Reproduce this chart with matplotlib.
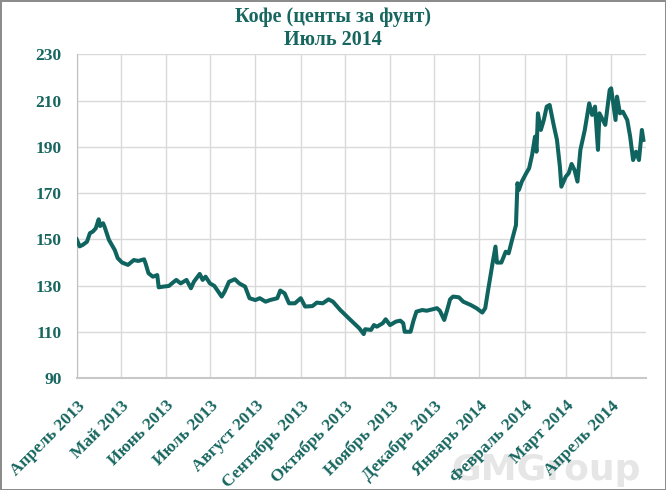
import numpy as np
import matplotlib
matplotlib.use("Agg")
import matplotlib.pyplot as plt
import pandas as pd

dates = [
    "2013-04-01", "2013-04-03", "2013-04-05", "2013-04-08", "2013-04-10", "2013-04-12",
    "2013-04-14", "2013-04-16", "2013-04-17", "2013-04-19", "2013-04-20", "2013-04-23",
    "2013-04-25", "2013-04-27", "2013-04-29", "2013-05-02", "2013-05-06", "2013-05-10",
    "2013-05-13", "2013-05-17", "2013-05-18", "2013-05-20", "2013-05-23", "2013-05-26",
    "2013-05-27", "2013-05-30", "2013-06-03", "2013-06-05", "2013-06-08", "2013-06-11",
    "2013-06-15", "2013-06-18", "2013-06-20", "2013-06-24", "2013-06-26", "2013-06-28",
    "2013-07-01", "2013-07-04", "2013-07-09", "2013-07-11", "2013-07-14", "2013-07-18",
    "2013-07-21", "2013-07-25", "2013-07-28", "2013-08-01", "2013-08-04", "2013-08-08",
    "2013-08-11", "2013-08-16", "2013-08-18", "2013-08-21", "2013-08-24", "2013-08-28",
    "2013-09-01", "2013-09-04", "2013-09-09", "2013-09-12", "2013-09-16", "2013-09-20",
    "2013-09-23", "2013-09-28", "2013-10-05", "2013-10-11", "2013-10-14", "2013-10-15",
    "2013-10-19", "2013-10-21", "2013-10-23", "2013-10-27", "2013-10-29", "2013-11-01",
    "2013-11-05", "2013-11-08", "2013-11-10", "2013-11-11", "2013-11-15", "2013-11-17",
    "2013-11-19", "2013-11-23", "2013-11-26", "2013-11-30", "2013-12-03", "2013-12-05",
    "2013-12-08", "2013-12-10", "2013-12-12", "2013-12-14", "2013-12-18", "2013-12-21",
    "2013-12-26", "2013-12-30", "2014-01-03", "2014-01-05", "2014-01-07", "2014-01-10",
    "2014-01-12", "2014-01-13", "2014-01-16", "2014-01-19", "2014-01-21", "2014-01-23",
    "2014-01-26", "2014-01-27", "2014-01-28", "2014-01-30", "2014-02-02", "2014-02-04",
    "2014-02-06", "2014-02-08", "2014-02-09", "2014-02-10", "2014-02-12", "2014-02-14",
    "2014-02-16", "2014-02-18", "2014-02-21", "2014-02-23", "2014-02-25", "2014-02-26",
    "2014-03-01", "2014-03-03", "2014-03-05", "2014-03-07", "2014-03-09", "2014-03-11",
    "2014-03-14", "2014-03-17", "2014-03-19", "2014-03-21", "2014-03-23", "2014-03-24",
    "2014-03-28", "2014-03-31", "2014-04-01", "2014-04-04", "2014-04-05", "2014-04-07",
    "2014-04-09", "2014-04-12", "2014-04-14", "2014-04-16", "2014-04-18", "2014-04-20",
    "2014-04-22", "2014-04-23",
]
prices = [
    150.0, 147.0, 147.6, 149.0, 152.7, 153.4,
    154.8, 158.7, 155.8, 157.0, 155.5, 149.8,
    147.6, 145.4, 141.9, 140.0, 139.0, 141.1,
    140.7, 141.4, 139.7, 135.4, 133.9, 134.6,
    129.3, 129.6, 129.9, 131.0, 132.5, 131.0,
    132.5, 128.9, 131.7, 135.1, 132.5, 133.9,
    131.0, 129.9, 125.3, 127.4, 131.7, 132.8,
    131.0, 129.6, 124.6, 123.8, 124.6, 123.1,
    123.8, 124.6, 127.9, 126.7, 122.4, 122.4,
    124.6, 121.0, 121.2, 122.7, 122.4, 124.1,
    123.1, 119.5, 115.2, 111.6, 109.1, 111.2,
    110.9, 113.0, 112.3, 113.8, 115.5, 113.0,
    114.5, 114.9, 113.8, 110.1, 110.1, 114.9,
    118.8, 119.5, 119.2, 119.8, 120.3, 119.2,
    115.2, 119.5, 124.1, 125.3, 125.0, 123.1,
    121.7, 120.3, 118.4, 120.3, 128.2, 139.7,
    146.9, 140.0, 140.0, 144.7, 144.0, 149.0,
    156.2, 174.3, 171.4, 175.0, 178.6, 180.8,
    186.5, 194.4, 187.9, 204.5, 197.3, 201.6,
    207.4, 208.1, 198.7, 193.0, 181.4, 172.8,
    177.1, 178.6, 182.6, 180.0, 175.0, 188.7,
    197.3, 208.8, 203.8, 207.4, 188.7, 204.5,
    199.5, 214.6, 215.3, 201.6, 211.7, 204.5,
    205.2, 201.6, 194.4, 184.3, 187.9, 184.3,
    197.3, 193.0,
]
month_ticks = pd.date_range("2013-04-01", "2014-04-01", freq="MS")
month_labels = ["Апрель 2013", "Май 2013", "Июнь 2013", "Июль 2013", "Август 2013",
                "Сентябрь 2013", "Октябрь 2013", "Ноябрь 2013", "Декабрь 2013",
                "Январь 2014", "Февраль 2014", "Март 2014", "Апрель 2014"]
y_ticks = [90, 110, 130, 150, 170, 190, 210, 230]

teal = "#17665F"
serif = ["Liberation Serif", "DejaVu Serif"]

fig = plt.figure(figsize=(6.66, 4.9), dpi=100)
fig.patch.set_edgecolor("#8C8C8C")
fig.patch.set_linewidth(2)

# watermark goes under everything else
fig.text(0.82, 0.04, "GMGroup", ha="center", va="center", family="DejaVu Sans",
         fontweight="bold", fontsize=26, color="#E6E6E6", zorder=-5)

ax = fig.add_axes([0.1152, 0.228, 0.8552, 0.6612])
ax.patch.set_alpha(0)

x = pd.to_datetime(dates)
ax.plot(x, prices, color="#10645F", lw=2.9, solid_joinstyle="round", zorder=3)

ax.set_xlim(pd.Timestamp("2013-04-01"), pd.Timestamp("2014-04-25"))
ax.set_ylim(90, 230)
ax.set_yticks(y_ticks)
ax.set_xticks(month_ticks)
ax.set_xticklabels(month_labels, rotation=45, ha="right", va="top",
                   rotation_mode="anchor", family=serif, fontweight="bold",
                   fontsize=12.5, color=teal)
ax.set_yticklabels([str(v) for v in y_ticks], family=serif, fontweight="bold",
                   fontsize=12.5, color=teal)
ax.tick_params(axis="both", length=0)
ax.tick_params(axis="x", pad=14)
ax.tick_params(axis="y", pad=11)

ax.grid(True, color="#D9D9D9", lw=1)
ax.set_axisbelow(True)
for s in ["top", "right"]:
    ax.spines[s].set_visible(False)
ax.spines["left"].set_color("#BFBFBF")
ax.spines["bottom"].set_color("#C8C8C8")
ax.spines["bottom"].set_linewidth(1.5)

fig.text(0.5, 0.985, "Кофе (центы за фунт)\nИюль 2014", ha="center", va="top",
         family=serif, fontweight="bold", fontsize=14.5, color=teal, linespacing=1.15)

fig.savefig("out.png", dpi=100)
